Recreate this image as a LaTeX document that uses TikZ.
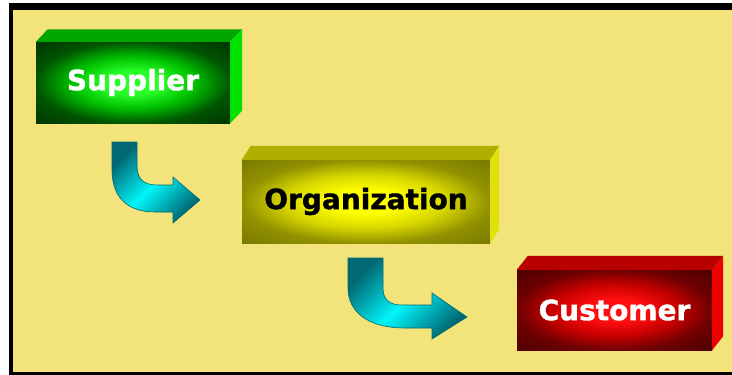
\documentclass[tikz,border=0pt]{standalone}
\usepackage{fontspec}
\setmainfont{DejaVu Sans}
\newfontfamily\boxfont{DejaVu Sans}[BoldFeatures={FakeBold=1.2}]
\definecolor{bg}{RGB}{242,228,122}
\definecolor{gin}{RGB}{40,255,40}
\definecolor{gmid}{RGB}{0,190,0}
\definecolor{gout}{RGB}{0,85,0}
\definecolor{gcorner}{RGB}{0,50,0}
\definecolor{gtop}{RGB}{0,165,0}
\definecolor{gside}{RGB}{0,225,0}
\definecolor{yin}{RGB}{255,255,0}
\definecolor{ymid}{RGB}{215,215,0}
\definecolor{yout}{RGB}{145,145,0}
\definecolor{ycorner}{RGB}{120,120,0}
\definecolor{ytop}{RGB}{175,175,0}
\definecolor{yside}{RGB}{225,225,10}
\definecolor{rin}{RGB}{255,15,15}
\definecolor{rmid}{RGB}{200,0,0}
\definecolor{rout}{RGB}{110,0,0}
\definecolor{rcorner}{RGB}{75,0,0}
\definecolor{rtop}{RGB}{185,0,0}
\definecolor{rside}{RGB}{235,0,0}
\definecolor{arrdark}{RGB}{0,105,115}
\definecolor{arrlight}{RGB}{0,245,250}
\pgfdeclareradialshading{greenglow}{\pgfpoint{0bp}{0bp}}{color(0bp)=(gin); color(7bp)=(gin); color(16bp)=(gmid); color(25bp)=(gout); color(36bp)=(gcorner); color(50bp)=(gcorner)}
\pgfdeclareradialshading{yellowglow}{\pgfpoint{0bp}{0bp}}{color(0bp)=(yin); color(7bp)=(yin); color(16bp)=(ymid); color(25bp)=(yout); color(36bp)=(ycorner); color(50bp)=(ycorner)}
\pgfdeclareradialshading{redglow}{\pgfpoint{0bp}{0bp}}{color(0bp)=(rin); color(7bp)=(rin); color(16bp)=(rmid); color(25bp)=(rout); color(36bp)=(rcorner); color(50bp)=(rcorner)}
\tikzset{
  boxfront/.style={shade, shading=#1, inner sep=0pt, font=\fontsize{28}{32}\boxfont\bfseries},
  arrowshape/.style={top color=arrdark, bottom color=arrdark, middle color=arrlight, shading angle=45, draw=arrdark, line width=0.6pt},
}
\newcommand{\boxsides}[5]{% node, dx, dy, topcolor, sidecolor
  \fill[#4] (#1.north west) -- ([shift={(#2pt,#3pt)}]#1.north west) -- ([shift={(#2pt,#3pt)}]#1.north east) -- (#1.north east) -- cycle;
  \fill[#5] (#1.north east) -- ([shift={(#2pt,#3pt)}]#1.north east) -- ([shift={(#2pt,#3pt)}]#1.south east) -- (#1.south east) -- cycle;
}
\begin{document}
\begin{tikzpicture}[x=1pt, y=-1pt]
\useasboundingbox (0,0) rectangle (732,375);
\fill[white] (0,0) rectangle (732,375);
\fill[black] (9,3) rectangle (732,375);
\fill[bg] (13,10) rectangle (732,372);

% Boxes
\node[boxfront=greenglow, text=white, minimum width=194pt, minimum height=81pt] (sup) at (133,82.5) {Supplier};
\boxsides{sup}{12}{12.5}{gtop}{gside}

\node[boxfront=yellowglow, text=black, minimum width=248pt, minimum height=83pt] (org) at (366,201.5) {Organization};
\boxsides{org}{9}{14}{ytop}{yside}

\node[boxfront=redglow, text=white, minimum width=195pt, minimum height=80pt] (cus) at (614.5,310) {Customer};
\boxsides{cus}{11}{14}{rtop}{rside}

% Arrows
\draw[arrowshape] (112,142) -- (137,142) -- (137,165)
  .. controls (137,180) and (144,185) .. (158,185) -- (173,185) -- (173,177)
  -- (200,200) -- (173,223) -- (173,212) -- (155,212)
  .. controls (126,212) and (112,196) .. (112,170) -- cycle;

\draw[arrowshape] (348,258) -- (383,258) -- (383,288)
  .. controls (383,300) and (390,305) .. (402,305) -- (432,305) -- (432,293)
  -- (467,317) -- (432,339) -- (432,328) -- (405,328)
  .. controls (368,328) and (348,312) .. (348,288) -- cycle;
\end{tikzpicture}
\end{document}
